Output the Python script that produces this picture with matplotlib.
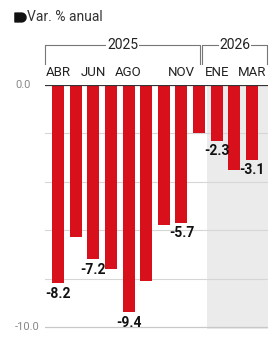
import numpy as np
import matplotlib
matplotlib.use("Agg")
import matplotlib.pyplot as plt
from matplotlib.path import Path
from matplotlib.transforms import blended_transform_factory

plt.rcParams['font.family'] = ['Roboto', 'DejaVu Sans']

months = ['ABR', 'MAY', 'JUN', 'JUL', 'AGO', 'SEP', 'OCT', 'NOV', 'DIC', 'ENE', 'FEB', 'MAR']
values = [-8.2, -6.3, -7.2, -7.6, -9.4, -8.1, -5.8, -5.7, -2.0, -2.3, -3.5, -3.1]
shown_months = ['ABR', 'JUN', 'AGO', 'NOV', 'ENE', 'MAR']
labelled = ['ABR', 'JUN', 'AGO', 'NOV', 'ENE', 'MAR']
years = ['2025', '2026']
legend_text = 'Var. % anual'

W, H = 280, 339
fig = plt.figure(figsize=(W / 100, H / 100), dpi=100)
ax = fig.add_axes([45 / W, 1 - 329.4 / H, 223 / W, (329.4 - 85) / H])

x = np.arange(len(months))
xmin, xmax = -0.74, 11.91
ax.set_xlim(xmin, xmax)
ax.set_ylim(-10.1, 0)

# 2026 shaded region
ax.axvspan(8.47, xmax, color='#ebebeb', zorder=0, lw=0)

for g in [-2, -4, -6, -8]:
    ax.axhline(g, color='#d6d6d6', lw=0.8, zorder=1)
ax.axhline(-10, color='#c8c8c8', lw=0.9, zorder=1)

ax.bar(x, values, width=0.68, color='#d7101b', zorder=2)
ax.axhline(0, color='#333333', lw=1.6, zorder=3)

for xi, m, v in zip(x, months, values):
    if m in labelled:
        ax.annotate(f'{v:.1f}', (xi, v), xytext=(0, -2.5), textcoords='offset points',
                    ha='center', va='top', fontsize=10, fontweight='bold',
                    color='#111111', zorder=4)

for s in ax.spines.values():
    s.set_visible(False)
ax.set_xticks([])
ax.set_yticks([])

# y labels (only ends)
fig.text(15 / W, 1 - 85 / H, '0.0', ha='left', va='center', fontsize=8, color='#888888')
fig.text(15 / W, 1 - 327 / H, '-10.0', ha='left', va='center', fontsize=8, color='#888888')

# month labels and year brackets above the plot
tr = blended_transform_factory(ax.transData, fig.transFigure)
for xi, m in zip(x, months):
    if m in shown_months:
        ax.text(xi, 1 - 72 / H, m, transform=tr, ha='center', va='center',
                fontsize=9.5, color='#222222', clip_on=False)

brackets = [(-0.74, 8.07), (8.18, 11.875)]
ytop, ybot = 1 - 45 / H, 1 - 64 / H
for (x0, x1), yr in zip(brackets, years):
    ax.plot([x0, x0, x1, x1], [ybot, ytop, ytop, ybot], transform=tr,
            color='#777777', lw=0.8, clip_on=False)
    ax.text((x0 + x1) / 2, ytop, yr, transform=tr, ha='center', va='center',
            fontsize=10, color='#222222', clip_on=False,
            bbox=dict(facecolor='white', edgecolor='none', pad=0.5))

# legend: D-shaped tag marker + text
t = np.linspace(-np.pi / 2, np.pi / 2, 12)
verts = [(-1, -0.8)] + [(0.2 + 0.8 * np.cos(a), 0.8 * np.sin(a)) for a in t] + [(-1, 0.8), (-1, -0.8)]
tag = Path(verts, closed=True)
leg = fig.add_axes([0, 0, 1, 1], facecolor='none')
leg.set_axis_off()
leg.set_xlim(0, W)
leg.set_ylim(H, 0)
leg.plot([19.5], [17], marker=tag, ms=8, color='#111111', lw=0)
fig.text(27 / W, 1 - 17 / H, legend_text, ha='left', va='center', fontsize=10, color='#333333')

fig.savefig('out.png', dpi=100)
